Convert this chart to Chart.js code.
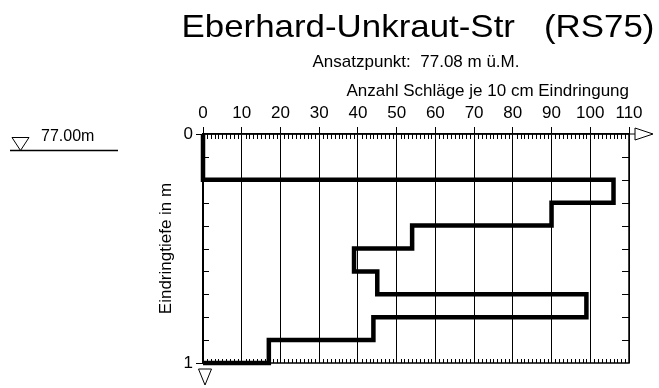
<!DOCTYPE html>
<html>
<head>
<meta charset="utf-8">
<title>Eberhard-Unkraut-Str (RS75)</title>
<script src="https://cdn.jsdelivr.net/npm/chart.js@4.4.1/dist/chart.umd.min.js"></script>
<style>
	html, body { margin: 0; padding: 0; background: #fff; }
	#box { width: 659px; height: 388px; }
</style>
</head>
<body>
<div id="box"><canvas id="sondierung"></canvas></div>
<script>
// Rammsondierung RS75: Schlagzahlen je 10 cm Eindringung
const siteName = 'Eberhard-Unkraut-Str';
const probeId = 'RS75';
const groundLevel = 77.08;   // Ansatzpunkt m ü.M.
const waterLevel = 77.00;    // Grundwasser m ü.M.
const depths = [0.0, 0.1, 0.2, 0.3, 0.4, 0.5, 0.6, 0.7, 0.8, 0.9, 1.0];
const blows = [0, 0, 106, 90, 54, 39, 45, 99, 44, 17];
const blowTicks = [0, 10, 20, 30, 40, 50, 60, 70, 80, 90, 100, 110];
const depthLabels = [0, 1];

const FONT = "'Liberation Sans', Arial, sans-serif";

// step outline: each 10 cm layer is a vertical segment at its blow count
function buildSteps()
{
	const pts = [];
	for (let i = 0; i < blows.length; i++) {
		pts.push({x: blows[i], y: depths[i]});
		pts.push({x: blows[i], y: depths[i + 1]});
	}
	pts.push({x: 0, y: depths[depths.length - 1]});
	return pts;
}

function line(ctx, x1, y1, x2, y2)
{
	ctx.beginPath();
	ctx.moveTo(x1, y1);
	ctx.lineTo(x2, y2);
	ctx.stroke();
}

const profileFrame = {
	id: 'profileFrame',
	beforeDatasetsDraw(chart) {
		const {ctx, chartArea: a, scales: {x, y}} = chart;
		ctx.save();
		ctx.strokeStyle = '#000';
		ctx.lineWidth = 1;
		// minor ticks every blow along top and bottom edge
		for (let v = 1; v < 110; v++) {
			if (v % 10 === 0) continue;
			const px = Math.round(x.getPixelForValue(v)) + 0.5;
			line(ctx, px, a.top, px, a.top + 5);
			line(ctx, px, a.bottom, px, a.bottom - 4);
		}
		// depth ticks every 10 cm on both sides
		for (let i = 1; i < depths.length - 1; i++) {
			const py = Math.round(y.getPixelForValue(depths[i])) + 0.5;
			line(ctx, a.left, py, a.left + 6, py);
			line(ctx, a.right, py, a.right - 7, py);
		}
		for (const d of depthLabels) {
			const py = Math.round(y.getPixelForValue(d)) + 0.5;
			line(ctx, a.left - 7, py, a.left, py);
		}
		ctx.lineWidth = 1.5;
		ctx.strokeRect(a.left, a.top, a.right - a.left, a.bottom - a.top);
		ctx.restore();
	},
	afterDraw(chart) {
		const {ctx, chartArea: a, scales: {y}} = chart;
		const cx = (a.left + a.right) / 2;
		ctx.save();
		ctx.fillStyle = '#000';
		ctx.strokeStyle = '#000';
		ctx.lineWidth = 1;

		// heading
		ctx.textAlign = 'center';
		ctx.textBaseline = 'alphabetic';
		ctx.save();
		ctx.translate(cx + 2, 37);
		ctx.scale(1.09, 1);
		ctx.font = '32px ' + FONT;
		ctx.fillText(siteName + '   (' + probeId + ')', 0, 0);
		ctx.restore();
		ctx.font = '17px ' + FONT;
		ctx.fillText('Ansatzpunkt:  ' + groundLevel.toFixed(2) + ' m ü.M.', cx, 67);

		// arrow at the end of the blow axis
		const ay = a.top;
		line(ctx, a.right, ay, a.right + 6, ay);
		ctx.beginPath();
		ctx.moveTo(a.right + 6, ay - 6);
		ctx.lineTo(a.right + 24, ay);
		ctx.lineTo(a.right + 6, ay + 6);
		ctx.closePath();
		ctx.stroke();

		// end marker below the depth axis
		const bx = a.left + 2;
		ctx.beginPath();
		ctx.moveTo(bx - 6.5, a.bottom + 6);
		ctx.lineTo(bx + 6.5, a.bottom + 6);
		ctx.lineTo(bx, a.bottom + 22);
		ctx.closePath();
		ctx.stroke();

		// groundwater level
		const wy = Math.round(y.getPixelForValue(groundLevel - waterLevel)) - 1.5;
		ctx.lineWidth = 1.3;
		line(ctx, 10, wy, 118, wy);
		ctx.lineWidth = 1;
		ctx.beginPath();
		ctx.moveTo(12, wy - 13);
		ctx.lineTo(29, wy - 13);
		ctx.lineTo(20.5, wy);
		ctx.closePath();
		ctx.stroke();
		ctx.textAlign = 'left';
		ctx.font = '16px ' + FONT;
		ctx.fillText(waterLevel.toFixed(2) + 'm', 41, wy - 10);
		ctx.restore();
	}
};

const ctx = document.getElementById('sondierung').getContext('2d');
new Chart(ctx, {
	type: 'scatter',
	data: {
		datasets: [{
			label: probeId,
			data: buildSteps(),
			showLine: true,
			borderColor: '#000',
			borderWidth: 4.5,
			borderJoinStyle: 'miter',
			borderCapStyle: 'butt',
			pointRadius: 0,
			tension: 0,
			clip: 8
		}]
	},
	options: {
		responsive: true,
		maintainAspectRatio: false,
		animation: false,
		layout: {
			padding: {top: 74, left: 153, right: 30, bottom: 25}
		},
		plugins: {
			legend: {display: false},
			tooltip: {enabled: false}
		},
		scales: {
			x: {
				position: 'top',
				min: 0,
				max: 110,
				afterFit: s => { s.height = 60; },
				afterBuildTicks: s => { s.ticks = blowTicks.map(v => ({value: v})); },
				ticks: {
					color: '#000',
					font: {family: FONT, size: 17},
					padding: 3,
					maxRotation: 0,
					autoSkip: false
				},
				grid: {
					color: '#000',
					lineWidth: 1,
					tickLength: 7,
					drawTicks: true
				},
				border: {display: true, color: '#000', width: 1.5},
				title: {
					display: true,
					text: 'Anzahl Schläge je 10 cm Eindringung',
					align: 'end',
					color: '#000',
					font: {family: FONT, size: 17},
					padding: {top: 7, bottom: 0}
				}
			},
			y: {
				position: 'left',
				reverse: true,
				min: 0,
				max: 1,
				afterFit: s => { s.width = 50; },
				afterBuildTicks: s => { s.ticks = depthLabels.map(v => ({value: v})); },
				ticks: {
					color: '#000',
					font: {family: FONT, size: 17},
					padding: 10
				},
				grid: {display: false, drawTicks: false},
				border: {display: true, color: '#000', width: 1.5},
				title: {
					display: true,
					text: 'Eindringtiefe in m',
					color: '#000',
					font: {family: FONT, size: 17},
					padding: {top: 3, bottom: 0}
				}
			}
		}
	},
	plugins: [profileFrame]
});
</script>
</body>
</html>
